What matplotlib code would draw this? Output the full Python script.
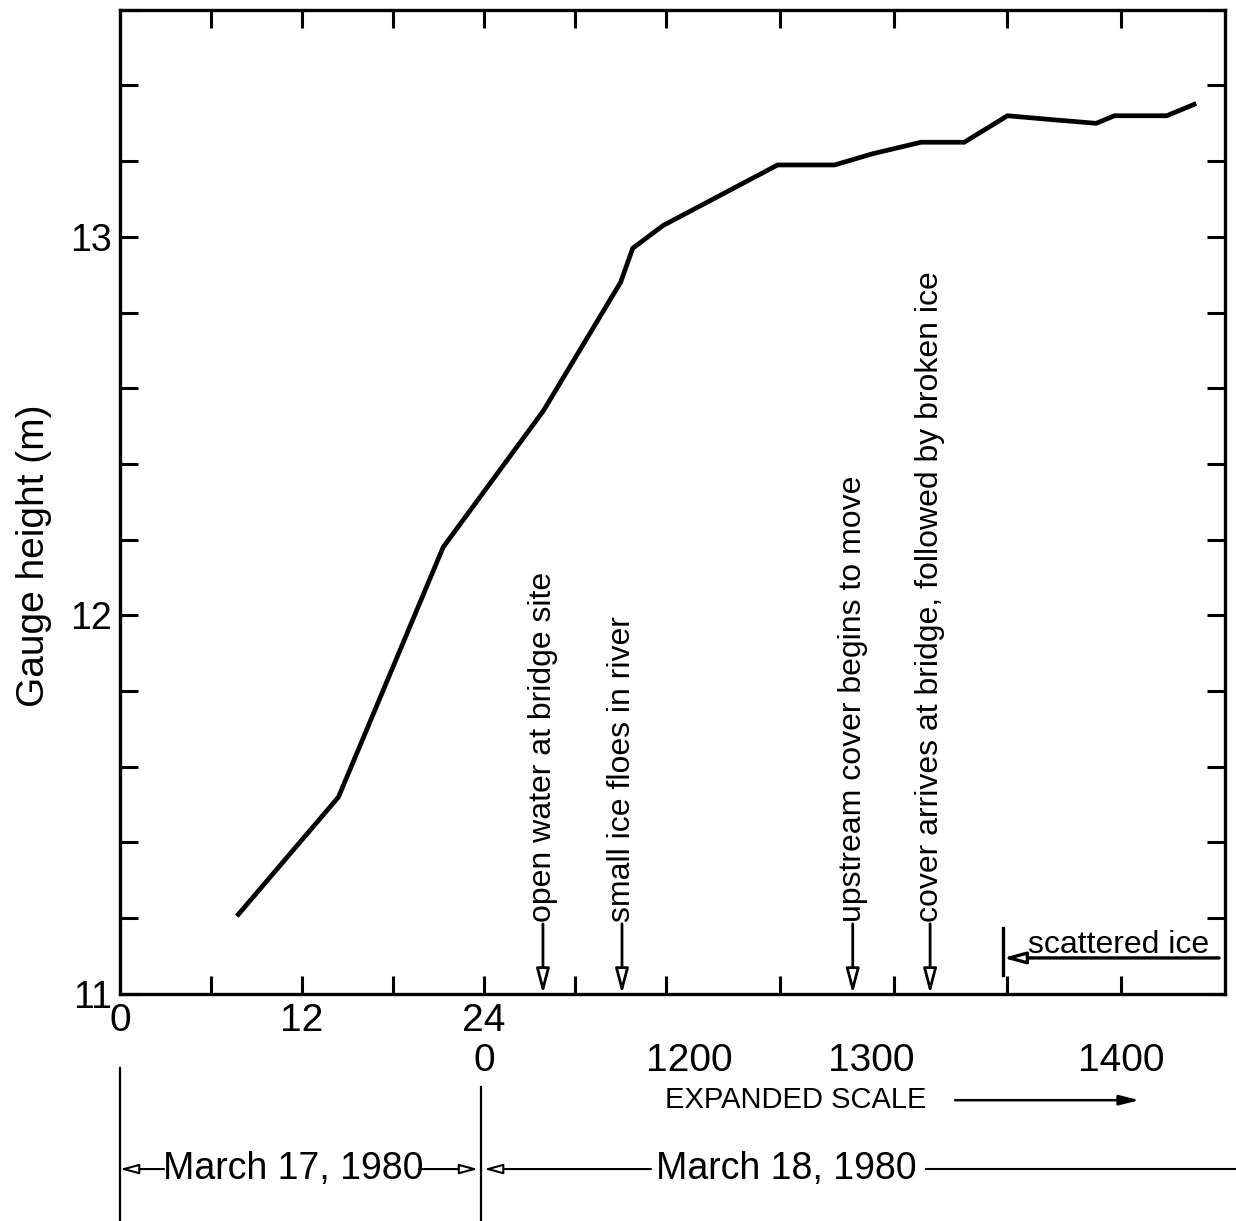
import numpy as np
import matplotlib
matplotlib.use('Agg')
import matplotlib.pyplot as plt

plt.rcParams['font.family'] = ['Liberation Sans', 'DejaVu Sans']

# time in hours counted from 0000 on March 17, 1980
hours = [7.8, 14.4, 21.3, 27.9, 33.0, 33.8, 35.8, 36.49, 36.74, 36.91,
         37.12, 37.31, 37.50, 37.69, 37.89, 37.97, 38.20, 38.32]
gauge = [11.21, 11.52, 12.18, 12.54, 12.88, 12.97, 13.03, 13.19, 13.19, 13.22,
         13.25, 13.25, 13.32, 13.31, 13.30, 13.32, 13.32, 13.35]

event_hours = [27.88, 33.09, 36.82, 37.16]
event_labels = ['open water at bridge site',
                'small ice floes in river',
                'upstream cover begins to move',
                'cover arrives at bridge, followed by broken ice']

tick_hours = [6, 12, 18, 24, 30, 36, 36.5, 37, 37.5, 38]
row1_hours = [0, 12, 24]
row1_labels = ['0', '12', '24']
row2_hours = [24, 36.1, 36.9, 38.0]
row2_labels = ['0', '1200', '1300', '1400']

scattered_start = 37.48


def fwd(h):
    h = np.asarray(h, dtype=float)
    return np.where(h <= 36, h, 36 + (h - 36) * 15)


def inv(p):
    p = np.asarray(p, dtype=float)
    return np.where(p <= 36, p, 36 + (p - 36) / 15)


fig = plt.figure(figsize=(12.36, 12.21), dpi=100)
ax = fig.add_axes([0.0971, 0.186, 0.8940, 0.806])
ax.set_xscale('function', functions=(fwd, inv))
ax.set_xlim(0, 38.456)
ax.set_ylim(11, 13.6)

ax.plot(hours, gauge, color='black', lw=3.4, solid_joinstyle='miter')

for s in ax.spines.values():
    s.set_linewidth(2.4)

ax.set_xticks(tick_hours)
ax.set_xticklabels([])
ax.set_yticks([11, 12, 13])
ax.set_yticks(np.arange(11.2, 13.6, 0.2), minor=True)
ax.tick_params(axis='both', which='both', direction='in', length=13, width=2.2,
               top=True, right=True)
ax.tick_params(axis='y', which='major', labelsize=27, pad=6)
ax.tick_params(axis='x', which='minor', bottom=False, top=False)
ax.set_ylabel('Gauge height (m)', fontsize=28)
ax.yaxis.set_label_coords(-0.062, 0.445)

tr = ax.get_xaxis_transform()
for h, lab in zip(row1_hours, row1_labels):
    ax.text(h, -0.028, lab, transform=tr, ha='center', va='center', fontsize=28)
for h, lab in zip(row2_hours, row2_labels):
    ax.text(h, -0.068, lab, transform=tr, ha='center', va='center', fontsize=28)

# event arrows
ytxt = 11.19
for h, lab in zip(event_hours, event_labels):
    ax.text(h, ytxt, lab, rotation=90, ha='center', va='bottom', fontsize=23)
    ax.annotate('', xy=(h, 11.0), xytext=(h, ytxt - 0.005),
                arrowprops=dict(arrowstyle='-|>,head_length=1.5,head_width=0.4',
                                fc='white', ec='black', lw=2.0, shrinkA=0, shrinkB=0))

# scattered ice
ax.plot([scattered_start, scattered_start], [11.05, 11.175], color='black', lw=2.4)
ax.annotate('', xy=(scattered_start, 11.095), xytext=(38.43, 11.095),
            arrowprops=dict(arrowstyle='-|>,head_length=1.3,head_width=0.35',
                            fc='white', ec='black', lw=2.4, shrinkA=0, shrinkB=0))
ax.text(37.59, 11.108, 'scattered ice', ha='left', va='baseline', fontsize=23)

# expanded scale note
ax.text(35.93, -0.108, 'EXPANDED SCALE', transform=tr, ha='left', va='center', fontsize=21)
ax.annotate('', xy=(38.08, -0.108), xytext=(37.27, -0.108), xycoords=tr, textcoords=tr,
            arrowprops=dict(arrowstyle='-|>,head_length=1.2,head_width=0.3',
                            fc='black', ec='black', lw=1.8, shrinkA=0, shrinkB=0),
            annotation_clip=False)

# date brackets
for h, y0 in [(0, -0.075), (23.8, -0.095)]:
    ax.plot([h, h], [y0, -0.24], transform=tr, color='black', lw=1.6, clip_on=False)

yd = -0.178
ax.text(11.4, yd, 'March 17, 1980', transform=tr, ha='center', va='center', fontsize=27)
arrow_kw = dict(arrowstyle='-|>,head_length=1.1,head_width=0.3',
                fc='white', ec='black', lw=1.5, shrinkA=0, shrinkB=0)
ax.annotate('', xy=(0, yd), xytext=(2.9, yd), xycoords=tr, textcoords=tr,
            arrowprops=arrow_kw, annotation_clip=False)
ax.annotate('', xy=(23.6, yd), xytext=(19.7, yd), xycoords=tr, textcoords=tr,
            arrowprops=arrow_kw, annotation_clip=False)
ax.annotate('', xy=(24.0, yd), xytext=(35.0, yd), xycoords=tr, textcoords=tr,
            arrowprops=arrow_kw, annotation_clip=False)
ax.text(36.53, yd, 'March 18, 1980', transform=tr, ha='center', va='center', fontsize=27)
ax.plot([37.14, 38.5], [yd, yd], transform=tr, color='black', lw=1.5, clip_on=False)

fig.savefig('out.png', dpi=100)
